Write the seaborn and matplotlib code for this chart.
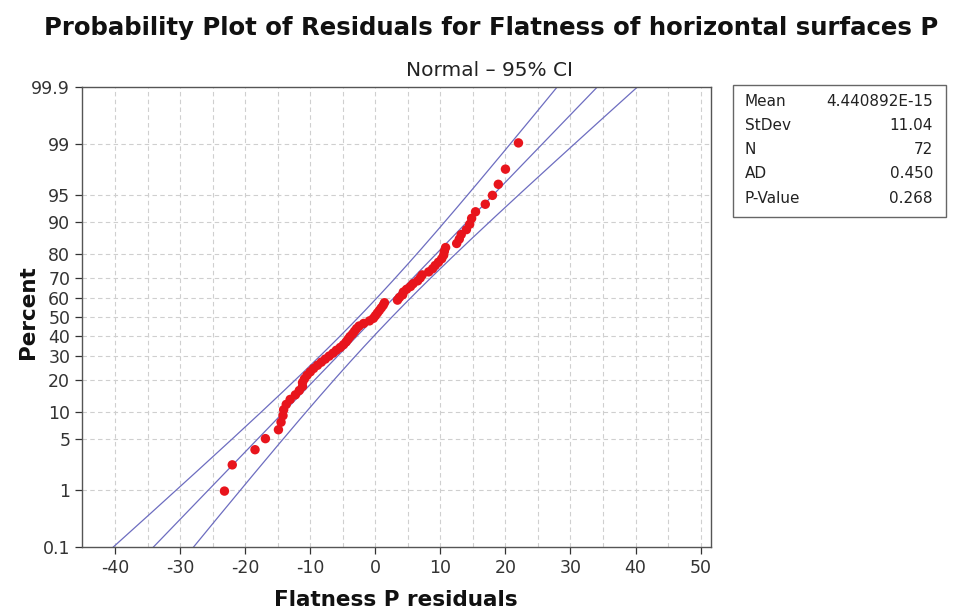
import numpy as np
import pandas as pd
import matplotlib
matplotlib.use("Agg")
import matplotlib.pyplot as plt
import seaborn as sns
from statistics import NormalDist
from matplotlib.patches import Rectangle

# ---- data ----
residuals = [
    -23.2, -22.0, -18.5, -16.9, -14.9, -14.5, -14.2, -14.1, -13.7, -13.1,
    -12.3, -11.7, -11.2, -11.2, -10.9, -10.5, -10.0, -9.5, -8.9, -8.3,
    -7.7, -7.1, -6.5, -6.0, -5.4, -4.9, -4.5, -4.2, -3.9, -3.5,
    -3.2, -2.9, -2.5, -1.8, -0.9, -0.3,
    0.0, 0.3, 0.6, 0.9, 1.2, 1.4, 3.4, 3.7, 4.2, 4.3,
    4.8, 5.4, 5.8, 6.5, 6.9, 7.2, 8.2, 8.8, 9.2, 9.7,
    10.2, 10.5, 10.6, 10.8, 12.5, 12.9, 13.2, 14.0, 14.5, 14.8,
    15.4, 16.9, 18.0, 18.9, 20.0, 22.0,
]
stat_labels = ["Mean", "StDev", "N", "AD", "P-Value"]
stat_values = ["4.440892E-15", "11.04", "72", "0.450", "0.268"]
mean_stat = 4.440892e-15
stdev_stat = 11.04
percent_ticks = [0.1, 1, 5, 10, 20, 30, 40, 50, 60, 70, 80, 90, 95, 99, 99.9]
percent_tick_labels = ["0.1", "1", "5", "10", "20", "30", "40", "50", "60",
                       "70", "80", "90", "95", "99", "99.9"]
x_ticks = [-40, -30, -20, -10, 0, 10, 20, 30, 40, 50]
x_grid = list(range(-40, 55, 5))

title = "Probability Plot of Residuals for Flatness of horizontal surfaces P"
subtitle = "Normal \u2013 95% CI"
xlabel = "Flatness P residuals"
ylabel = "Percent"

# ---- derived ----
nd = NormalDist()
n = len(residuals)
ranks = np.arange(1, n + 1)
pct = (ranks - 0.3) / (n + 0.4)
zpts = np.array([nd.inv_cdf(p) for p in pct])
df_pts = pd.DataFrame({"resid": sorted(residuals), "z": zpts})

z_lo = nd.inv_cdf(percent_ticks[0] / 100)
z_hi = nd.inv_cdf(percent_ticks[-1] / 100)
zz = np.linspace(z_lo - 0.3, z_hi + 0.3, 300)
n_stat = int(stat_values[2])
center = mean_stat + stdev_stat * zz
half = 1.96 * stdev_stat * np.sqrt(1.0 / n_stat + zz ** 2 / (2 * (n_stat - 1)))
df_lines = pd.concat([
    pd.DataFrame({"x": center - half, "z": zz, "line": "lower"}),
    pd.DataFrame({"x": center, "z": zz, "line": "fit"}),
    pd.DataFrame({"x": center + half, "z": zz, "line": "upper"}),
])

# ---- plot ----
sns.set_style("white")
plt.rcParams["font.family"] = ["DejaVu Sans"]

fig = plt.figure(figsize=(9.56, 6.15), dpi=100)
ax = fig.add_axes([82 / 956, 1 - 547 / 615, (711 - 82) / 956, (547 - 87) / 615])

line_col = "#6d6dc0"
for name, sub in df_lines.groupby("line"):
    sns.lineplot(data=sub, x="x", y="z", sort=False, estimator=None,
                 color=line_col, lw=0.9, ax=ax, legend=False)

sns.scatterplot(data=df_pts, x="resid", y="z", color="#e8141c", s=46,
                edgecolor="none", ax=ax, zorder=5, legend=False)

ax.set_xlim(-45.1, 51.6)
ax.set_ylim(z_lo, z_hi)

# grid
for gx in x_grid:
    ax.axvline(gx, color="#cfcfcf", lw=0.8, ls=(0, (4, 3)), zorder=0)
for p in percent_ticks[1:-1]:
    ax.axhline(nd.inv_cdf(p / 100), color="#cfcfcf", lw=0.8, ls=(0, (4, 3)), zorder=0)

ax.set_xticks(x_ticks)
ax.set_xticklabels([str(t) for t in x_ticks])
ax.set_yticks([nd.inv_cdf(p / 100) for p in percent_ticks])
ax.set_yticklabels(percent_tick_labels)
ax.tick_params(axis="both", which="major", labelsize=12.5, colors="#333333",
               direction="out", length=5, width=0.9, left=True, bottom=True)
ax.set_xlabel("")
ax.set_ylabel("")
for s in ax.spines.values():
    s.set_color("#555555")
    s.set_linewidth(1.0)

# texts
fig.text(491 / 956, 1 - 28 / 615, title, ha="center", va="center",
         fontsize=17.6, fontweight="bold", color="#111111")
fig.text(490 / 956, 1 - 70 / 615, subtitle, ha="center", va="center",
         fontsize=14.5, color="#222222")
fig.text(28 / 956, 1 - 312 / 615, ylabel, ha="center", va="center",
         rotation=90, fontsize=15.5, fontweight="bold", color="#111111")
fig.text(396 / 956, 1 - 600 / 615, xlabel, ha="center", va="center",
         fontsize=15.5, fontweight="bold", color="#111111")

# stats box
box = Rectangle((733 / 956, 1 - 217 / 615), (946 - 733) / 956, (217 - 85) / 615,
                transform=fig.transFigure, fill=False, edgecolor="#666666", lw=1.0)
fig.patches.append(box)
row_y = [102, 126, 150, 174, 198]
for lab, val, yy in zip(stat_labels, stat_values, row_y):
    fig.text(745 / 956, 1 - yy / 615, lab, ha="left", va="center",
             fontsize=11, color="#222222")
    fig.text(933 / 956, 1 - yy / 615, val, ha="right", va="center",
             fontsize=11, color="#222222")

fig.savefig("out.png", dpi=100)
